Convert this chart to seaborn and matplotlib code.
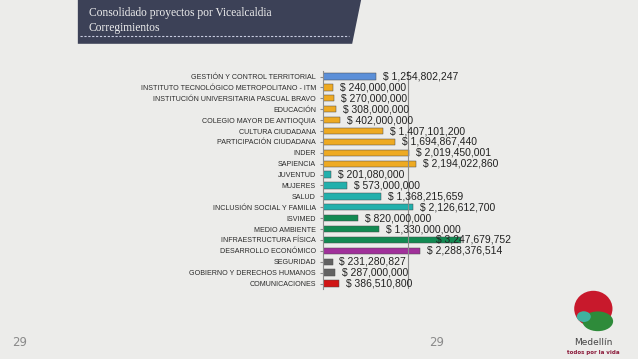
import numpy as np
import pandas as pd
import matplotlib
matplotlib.use("Agg")
import matplotlib.pyplot as plt
from matplotlib.patches import Polygon, Ellipse
import seaborn as sns

# Data
categories = [
    "GESTIÓN Y CONTROL TERRITORIAL",
    "INSTITUTO TECNOLÓGICO METROPOLITANO - ITM",
    "INSTITUCIÓN UNIVERSITARIA PASCUAL BRAVO",
    "EDUCACIÓN",
    "COLEGIO MAYOR DE ANTIOQUIA",
    "CULTURA CIUDADANA",
    "PARTICIPACIÓN CIUDADANA",
    "INDER",
    "SAPIENCIA",
    "JUVENTUD",
    "MUJERES",
    "SALUD",
    "INCLUSIÓN SOCIAL Y FAMILIA",
    "ISVIMED",
    "MEDIO AMBIENTE",
    "INFRAESTRUCTURA FÍSICA",
    "DESARROLLO ECONÓMICO",
    "SEGURIDAD",
    "GOBIERNO Y DERECHOS HUMANOS",
    "COMUNICACIONES",
]
values = [
    1254802247, 240000000, 270000000, 308000000, 402000000, 1407101200,
    1694867440, 2019450001, 2194022860, 201080000, 573000000, 1368215659,
    2126612700, 820000000, 1330000000, 3247679752, 2288376514, 231280827,
    287000000, 386510800,
]
groups = ["gestion"] + ["educ"] * 8 + ["social"] * 4 + ["habitat"] * 3 + \
         ["economia"] + ["gobierno"] * 2 + ["comunic"]
group_colors = {
    "gestion": "#5b8fd8",
    "educ": "#eeaa22",
    "social": "#22b0ac",
    "habitat": "#128a52",
    "economia": "#a0309a",
    "gobierno": "#626262",
    "comunic": "#d01515",
}

df = pd.DataFrame({"categoria": categories, "valor": values, "grupo": groups})
bar_colors = [group_colors[g] for g in groups]

bg = "#ececea"
fig = plt.figure(figsize=(6.38, 3.59), dpi=100, facecolor=bg)
ax = fig.add_axes([0.506, 0.195, 0.267, 0.607])
ax.set_facecolor(bg)

sns.barplot(data=df, x="valor", y="categoria", hue="categoria",
            palette=bar_colors, legend=False, width=0.58, saturation=1,
            ax=ax, edgecolor="#4a4a4a", linewidth=0.35)

ax.set_xlim(0, 4e9)
ax.set_xticks([2e9])
ax.xaxis.grid(True, color="#8c8c8c", linewidth=0.8)
ax.set_xticklabels([])
ax.tick_params(axis="x", length=0)
ax.tick_params(axis="y", length=2, color="#8c8c8c", pad=3,
               labelsize=5.1, labelcolor="#2a2a2a")
for lbl in ax.get_yticklabels():
    lbl.set_family("Liberation Sans")
ax.set_xlabel("")
ax.set_ylabel("")
for side in ["top", "right", "bottom"]:
    ax.spines[side].set_visible(False)
ax.spines["left"].set_color("#8c8c8c")
ax.spines["left"].set_linewidth(0.8)

# value labels, the widest one pulled back inside the chart area
for i, v in enumerate(values):
    xpos = min(v, 2.5e9) + 0.16e9
    ax.text(xpos, i, "$ {:,}".format(v), va="center", ha="left",
            fontsize=7.5, color="#222222", family="Liberation Sans")

# title banner
banner = Polygon([(0.122, 1.0), (0.566, 1.0), (0.552, 0.878), (0.122, 0.878)],
                 closed=True, transform=fig.transFigure, facecolor="#3c4157",
                 edgecolor="none")
fig.patches.append(banner)
fig.lines.append(plt.Line2D([0.125, 0.547], [0.90, 0.90], transform=fig.transFigure,
                            color="#c8cce0", linewidth=0.8, linestyle=(0, (2, 1.5))))
fig.text(0.139, 0.965, "Consolidado proyectos por Vicealcaldia", color="#eeeeee",
         fontsize=8.3, family="Liberation Serif", va="center")
fig.text(0.139, 0.922, "Corregimientos", color="#eeeeee",
         fontsize=8.3, family="Liberation Serif", va="center")

# page numbers
fig.text(0.019, 0.045, "29", color="#8a8a8a", fontsize=8.5, va="center")
fig.text(0.672, 0.045, "29", color="#8a8a8a", fontsize=8.5, va="center")

# logo
fig.patches.append(Ellipse((0.930, 0.140), 0.06, 0.10, transform=fig.transFigure,
                           facecolor="#c8192c", edgecolor="none"))
fig.patches.append(Ellipse((0.937, 0.105), 0.048, 0.055, transform=fig.transFigure,
                           facecolor="#2e8b3a", edgecolor="none"))
fig.patches.append(Ellipse((0.915, 0.118), 0.022, 0.03, transform=fig.transFigure,
                           facecolor="#3fb2a0", edgecolor="none"))
fig.text(0.930, 0.045, "Medellín", color="#444444", fontsize=6.5, ha="center",
         va="center")
fig.text(0.930, 0.018, "todos por la vida", color="#8b1a3a", fontsize=4,
         ha="center", va="center", weight="bold")

fig.savefig("out.png", dpi=100, facecolor=bg)
